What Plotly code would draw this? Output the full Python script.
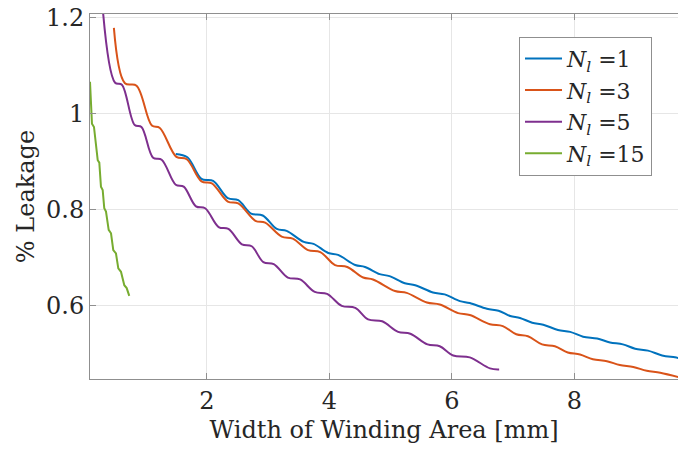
import plotly.graph_objects as go

# Leakage vs. winding-area width for different numbers of layers N_l
x_n1 = [1.49, 1.68, 1.91, 2.10, 2.34, 2.51, 2.72, 2.91, 3.14, 3.30, 3.58, 3.74,
        3.98, 4.14, 4.42, 4.58, 4.82, 4.98, 5.23, 5.40, 5.69, 5.88, 6.13, 6.29,
        6.57, 6.76, 6.95, 7.11, 7.31, 7.49, 7.73, 7.93, 8.14, 8.37, 8.58, 8.79,
        8.99, 9.20, 9.43, 9.64, 9.72]
y_n1 = [0.916, 0.909, 0.864, 0.860, 0.824, 0.820, 0.792, 0.788, 0.760, 0.756, 0.733, 0.729,
        0.710, 0.706, 0.685, 0.681, 0.666, 0.662, 0.647, 0.643, 0.628, 0.624, 0.610, 0.606,
        0.594, 0.590, 0.579, 0.575, 0.565, 0.561, 0.550, 0.546, 0.536, 0.532, 0.524, 0.520,
        0.511, 0.507, 0.497, 0.493, 0.491]

x_n3 = [0.48, 0.66, 0.85, 1.10, 1.23, 1.50, 1.67, 1.91, 2.08, 2.34, 2.51, 2.79, 2.95,
        3.22, 3.40, 3.65, 3.85, 4.09, 4.29, 4.55, 4.71, 5.07, 5.26, 5.59, 5.80,
        6.10, 6.29, 6.62, 6.83, 7.05, 7.24, 7.47, 7.68, 7.89, 8.09, 8.30, 8.53,
        8.74, 8.96, 9.18, 9.40, 9.72]
y_n3 = [1.178, 1.063, 1.058, 0.975, 0.970, 0.910, 0.905, 0.859, 0.855, 0.817, 0.813, 0.777, 0.773,
        0.744, 0.740, 0.716, 0.712, 0.685, 0.681, 0.659, 0.655, 0.631, 0.627, 0.607, 0.603,
        0.585, 0.581, 0.562, 0.558, 0.541, 0.537, 0.520, 0.516, 0.503, 0.499, 0.489, 0.485,
        0.477, 0.473, 0.465, 0.461, 0.451]

x_n5 = [0.30, 0.50, 0.61, 0.82, 0.93, 1.12, 1.26, 1.49, 1.62, 1.82, 1.97, 2.19, 2.35,
        2.57, 2.73, 2.92, 3.09, 3.32, 3.52, 3.76, 3.96, 4.20, 4.42, 4.63, 4.86,
        5.12, 5.32, 5.60, 5.80, 6.02, 6.29, 6.62, 6.77]
y_n5 = [1.215, 1.064, 1.060, 0.976, 0.972, 0.908, 0.904, 0.852, 0.848, 0.807, 0.803, 0.764, 0.760,
        0.728, 0.724, 0.691, 0.687, 0.659, 0.655, 0.629, 0.625, 0.600, 0.596, 0.572, 0.568,
        0.546, 0.542, 0.520, 0.516, 0.497, 0.493, 0.470, 0.468]

x_n15 = [0.090, 0.122, 0.155, 0.216, 0.242, 0.269, 0.297, 0.323, 0.351, 0.395, 0.433,
         0.470, 0.514, 0.552, 0.596, 0.650, 0.689, 0.731]
y_n15 = [1.066, 0.979, 0.972, 0.903, 0.898, 0.848, 0.841, 0.803, 0.796, 0.758, 0.751,
         0.716, 0.709, 0.678, 0.671, 0.643, 0.637, 0.621]

layer_counts = [1, 3, 5, 15]
series_x = [x_n1, x_n3, x_n5, x_n15]
series_y = [y_n1, y_n3, y_n5, y_n15]
colors = ["#0072BD", "#D95319", "#7E2F8E", "#77AC30"]
shapes = ["spline", "spline", "spline", "linear"]

x_ticks = [2, 4, 6, 8]
y_ticks = [0.6, 0.8, 1.0, 1.2]
y_tick_text = ["0.6", "0.8", "1", "1.2"]

FONT = "'DejaVu Serif', serif"
TXT = "#262626"
AX = "#8f8f8f"
FS = 24
LEG_FS = 22

fig = go.Figure()
for n, xs, ys, c, sh in zip(layer_counts, series_x, series_y, colors, shapes):
    fig.add_trace(go.Scatter(
        x=xs, y=ys, mode="lines",
        line=dict(color=c, width=2, shape=sh, smoothing=1.0),
        name=f"<i>N</i><sub><i>l</i></sub> ={n}",
    ))

fig.update_layout(
    width=678, height=451,
    margin=dict(l=90, r=0, t=14, b=72),
    paper_bgcolor="white", plot_bgcolor="white",
    font=dict(family=FONT, size=FS, color=TXT),
    showlegend=True,
    legend=dict(
        x=0.7296, y=0.938, xanchor="left", yanchor="top",
        bgcolor="white", bordercolor=AX, borderwidth=1,
        font=dict(family=FONT, size=LEG_FS, color=TXT),
        tracegroupgap=0, itemwidth=37,
    ),
    xaxis=dict(
        range=[0.09, 9.69], tickvals=x_ticks, ticks="inside", ticklen=6,
        tickcolor=AX, showline=True, linecolor=AX, linewidth=1, mirror="ticks",
        showgrid=True, gridcolor="#e6e6e6", gridwidth=1, zeroline=False,
        tickfont=dict(family=FONT, size=FS, color=TXT),
        title=dict(text="Width of Winding Area [mm]", standoff=7,
                   font=dict(family=FONT, size=FS, color=TXT)),
    ),
    yaxis=dict(
        range=[0.448, 1.207], tickvals=y_ticks, ticktext=y_tick_text,
        ticks="inside", ticklen=6, tickcolor=AX, showline=True, linecolor=AX,
        linewidth=1, mirror=False, showgrid=True, gridcolor="#e6e6e6",
        gridwidth=1, zeroline=False,
        tickfont=dict(family=FONT, size=FS, color=TXT),
        title=dict(text="% Leakage", standoff=4,
                   font=dict(family=FONT, size=FS, color=TXT)),
    ),
)

fig.write_html("out.html")
